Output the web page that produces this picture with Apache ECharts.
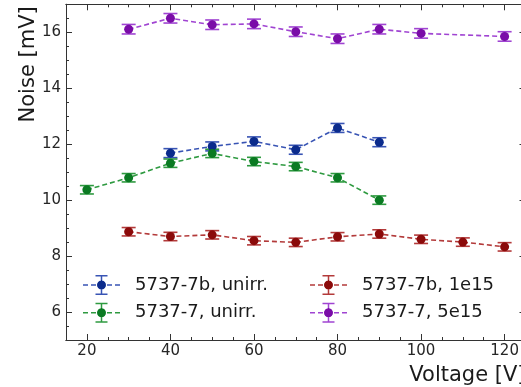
<!DOCTYPE html>
<html>
<head>
<meta charset="utf-8">
<script src="https://cdn.jsdelivr.net/npm/echarts@6/dist/echarts.min.js"></script>
<style>html,body{margin:0;padding:0;background:#fff;}#c{width:521px;height:387px;}</style>
</head>
<body>
<div id="c"></div>
<script>
// ---- data ----
const voltsBlue = [40, 50, 60, 70, 80, 90];
const noiseBlue = [11.68, 11.92, 12.1, 11.8, 12.58, 12.07];
const errBlue = [0.16, 0.16, 0.16, 0.16, 0.16, 0.16];

const voltsGreen = [20, 30, 40, 50, 60, 70, 80, 90];
const noiseGreen = [10.37, 10.8, 11.32, 11.67, 11.38, 11.2, 10.8, 10.0];
const errGreen = [0.15, 0.15, 0.15, 0.15, 0.15, 0.15, 0.15, 0.15];

const voltsRed = [30, 40, 50, 60, 70, 80, 90, 100, 110, 120];
const noiseRed = [8.87, 8.7, 8.76, 8.55, 8.49, 8.69, 8.79, 8.6, 8.5, 8.33];
const errRed = [0.15, 0.15, 0.15, 0.15, 0.15, 0.15, 0.15, 0.15, 0.15, 0.15];

const voltsPurple = [30, 40, 50, 60, 70, 80, 90, 100, 120];
const noisePurple = [16.11, 16.5, 16.27, 16.3, 16.02, 15.77, 16.11, 15.96, 15.85];
const errPurple = [0.17, 0.17, 0.17, 0.17, 0.17, 0.17, 0.17, 0.17, 0.17];

const seriesNames = ['5737-7b, unirr.', '5737-7, unirr.', '5737-7b, 1e15', '5737-7, 5e15'];
const xTicks = [20, 40, 60, 80, 100, 120];
const yTicks = [6, 8, 10, 12, 14, 16];

// ---- styling ----
const markerColors = ['#0b2b8c', '#0a7a22', '#8b0a0a', '#7a0ca8'];
const lineColors = ['#3854b4', '#2e9a40', '#b33a3a', '#a044d2'];
const FONT = 'DejaVu Sans';

const groups = [
  [voltsBlue, noiseBlue, errBlue],
  [voltsGreen, noiseGreen, errGreen],
  [voltsRed, noiseRed, errRed],
  [voltsPurple, noisePurple, errPurple]
];

const legendIcon = 'path://M0 9.25h5v1.5h-5z M8 9.25h5v1.5h-5z M24 9.25h5v1.5h-5z M32 9.25h5v1.5h-5z ' +
  'M17.75 0.75h1.5v18.5h-1.5z M12.5 0h12v1.5h-12z M12.5 18.5h12v1.5h-12z ' +
  'M14 10a4.5 4.5 0 1 1 9 0a4.5 4.5 0 1 1 -9 0z';

const series = [];
groups.forEach((g, i) => {
  const [xs, ys, es] = g;
  series.push({
    name: seriesNames[i] + ' err',
    type: 'custom',
    xAxisIndex: 0, yAxisIndex: 0,
    z: 3,
    data: xs.map((x, k) => [x, ys[k], es[k]]),
    encode: { x: 0, y: 1 },
    renderItem: function (params, api) {
      const x = api.value(0), y = api.value(1), e = api.value(2);
      const lo = api.coord([x, y - e]);
      const hi = api.coord([x, y + e]);
      const st = { stroke: lineColors[i], lineWidth: 1.6 };
      return {
        type: 'group',
        children: [
          { type: 'line', shape: { x1: lo[0], y1: lo[1], x2: hi[0], y2: hi[1] }, style: st },
          { type: 'line', shape: { x1: lo[0] - 7, y1: lo[1], x2: lo[0] + 7, y2: lo[1] }, style: st },
          { type: 'line', shape: { x1: hi[0] - 7, y1: hi[1], x2: hi[0] + 7, y2: hi[1] }, style: st }
        ]
      };
    }
  });
  series.push({
    name: seriesNames[i],
    type: 'line',
    xAxisIndex: 0, yAxisIndex: 0,
    z: 4,
    data: xs.map((x, k) => [x, ys[k]]),
    symbol: 'circle',
    symbolSize: 9,
    itemStyle: { color: markerColors[i], borderWidth: 0 },
    lineStyle: { color: lineColors[i], width: 1.6, type: [5, 3] },
    emphasis: { disabled: true }
  });
});

const axisLineStyle = { show: true, onZero: false, lineStyle: { color: '#333', width: 1 } };
const labelStyle = { fontFamily: FONT, fontSize: 15, color: '#262626' };

function iconColor(i) {
  return {
    type: 'radial', x: 0.5, y: 0.5, r: 0.25, global: false,
    colorStops: [
      { offset: 0, color: markerColors[i] },
      { offset: 0.9, color: markerColors[i] },
      { offset: 0.9, color: lineColors[i] },
      { offset: 1, color: lineColors[i] }
    ]
  };
}

function legendFor(names, left) {
  return {
    orient: 'vertical',
    left: left,
    top: 275,
    padding: 0,
    itemWidth: 37,
    itemHeight: 20,
    itemGap: 7.7,
    icon: legendIcon,
    selectedMode: false,
    itemStyle: { borderWidth: 0 },
    textStyle: { fontFamily: FONT, fontSize: 18, color: '#1a1a1a', padding: [0, 0, 0, 10] },
    data: names.map(n => ({ name: n, itemStyle: { color: iconColor(seriesNames.indexOf(n)) } }))
  };
}

const option = {
  animation: false,
  backgroundColor: '#fff',
  grid: { left: 66, top: 4.3, width: 459.5, height: 335.7, outerBoundsMode: 'none', containLabel: false },
  legend: [
    legendFor([seriesNames[0], seriesNames[1]], 83),
    legendFor([seriesNames[2], seriesNames[3]], 310)
  ],
  xAxis: [
    { type: 'value', position: 'bottom', min: 15, max: 125,
      name: 'Voltage [V]', nameLocation: 'end', nameGap: 0,
      nameTextStyle: { fontFamily: FONT, fontSize: 21, color: '#1a1a1a', align: 'right', verticalAlign: 'top', padding: [25.5, 0, 0, 0] },
      axisLine: axisLineStyle,
      axisTick: { show: true, inside: true, length: 6, customValues: xTicks, lineStyle: { color: '#333' } },
      axisLabel: Object.assign({ show: true, margin: 4, customValues: xTicks }, labelStyle),
      splitLine: { show: false } },
    { type: 'value', position: 'bottom', min: 15, max: 125, interval: 5,
      axisLine: axisLineStyle,
      axisTick: { show: true, inside: true, length: 3, lineStyle: { color: '#333' } },
      axisLabel: { show: false }, splitLine: { show: false } },
    { type: 'value', position: 'top', min: 15, max: 125,
      axisLine: axisLineStyle,
      axisTick: { show: true, inside: true, length: 6, customValues: xTicks, lineStyle: { color: '#333' } },
      axisLabel: { show: false }, splitLine: { show: false } },
    { type: 'value', position: 'top', min: 15, max: 125, interval: 5,
      axisLine: axisLineStyle,
      axisTick: { show: true, inside: true, length: 3, lineStyle: { color: '#333' } },
      axisLabel: { show: false }, splitLine: { show: false } }
  ],
  yAxis: [
    { type: 'value', position: 'left', min: 5, max: 17,
      name: 'Noise [mV]', nameLocation: 'end', nameGap: -2, nameRotate: 90,
      nameTextStyle: { fontFamily: FONT, fontSize: 21, color: '#1a1a1a', align: 'right', verticalAlign: 'bottom', padding: [0, 0, 27, 0] },
      axisLine: axisLineStyle,
      axisTick: { show: true, inside: true, length: 6, customValues: yTicks, lineStyle: { color: '#333' } },
      axisLabel: Object.assign({ show: true, margin: 5, customValues: yTicks }, labelStyle),
      splitLine: { show: false } },
    { type: 'value', position: 'left', min: 5, max: 17, interval: 0.5,
      axisLine: axisLineStyle,
      axisTick: { show: true, inside: true, length: 3, lineStyle: { color: '#333' } },
      axisLabel: { show: false }, splitLine: { show: false } },
    { type: 'value', position: 'right', min: 5, max: 17,
      axisLine: axisLineStyle,
      axisTick: { show: true, inside: true, length: 6, customValues: yTicks, lineStyle: { color: '#333' } },
      axisLabel: { show: false }, splitLine: { show: false } },
    { type: 'value', position: 'right', min: 5, max: 17, interval: 0.5,
      axisLine: axisLineStyle,
      axisTick: { show: true, inside: true, length: 3, lineStyle: { color: '#333' } },
      axisLabel: { show: false }, splitLine: { show: false } }
  ],
  series: series
};

const chart = echarts.init(document.getElementById('c'), null, { renderer: 'canvas' });
chart.setOption(option);
</script>
</body>
</html>
